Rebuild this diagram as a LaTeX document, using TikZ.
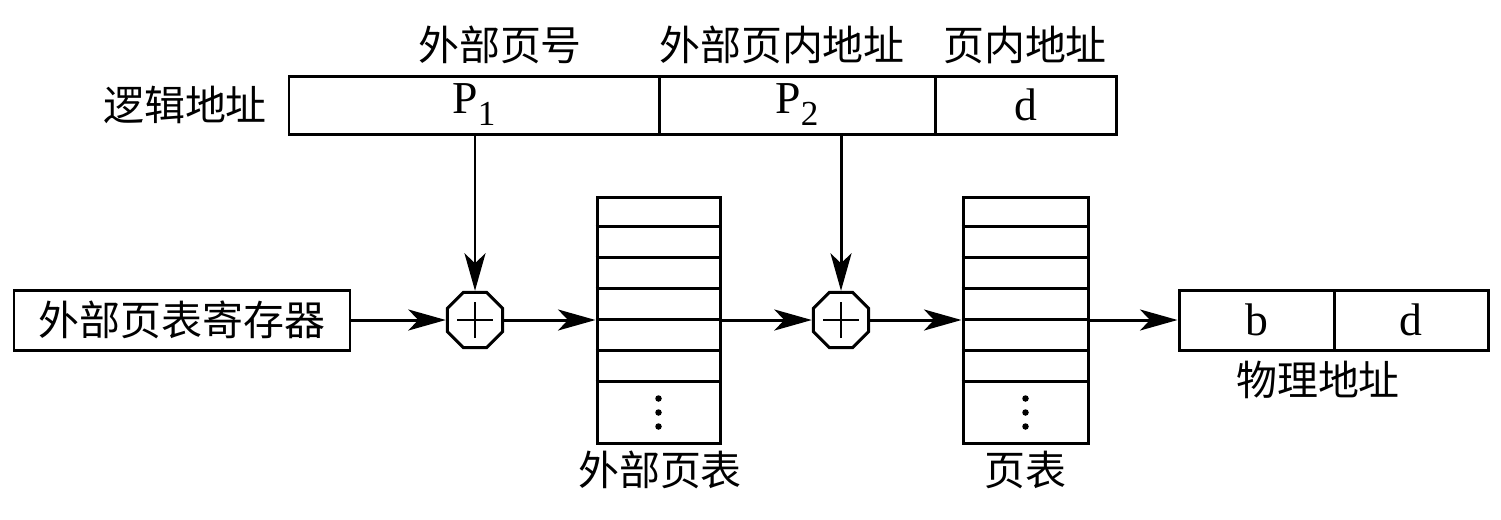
\documentclass[tikz,border=0pt]{standalone}
\usepackage{fontspec}
\setmainfont{Liberation Serif}
\newfontfamily\cjk{Noto Sans CJK SC}
\usetikzlibrary{arrows.meta,shapes.geometric}
\newcommand\bigfont{\fontsize{23.3}{28}\selectfont}
\newcommand\latfont{\fontsize{26}{30}\selectfont}
\newcommand\subone[1]{{\fontsize{20}{22}\selectfont\raisebox{-0.34em}{#1}}}

\tikzset{
  field/.style={draw, line width=1.7pt, minimum height=1.16cm, inner sep=0pt, font=\latfont},
  cjklabel/.style={font=\cjk\bigfont, inner sep=0pt},
  adder/.style={draw, line width=1.7pt, fill=white, regular polygon, regular polygon sides=8,
    minimum size=1.2cm, inner sep=0pt,
    path picture={\draw[line width=0.8pt]
      ([xshift=-0.36cm]path picture bounding box.center) -- ([xshift=0.36cm]path picture bounding box.center)
      ([yshift=-0.36cm]path picture bounding box.center) -- ([yshift=0.36cm]path picture bounding box.center);}},
  pagetab/.style={draw, line width=1.7pt, minimum height=4.92cm, inner sep=0pt},
  arr/.style={line width=1.7pt, -{Stealth[length=7.5mm, width=4.2mm, inset=2mm]}}
}

\begin{document}
\begin{tikzpicture}

\useasboundingbox (0,0) rectangle (30.02,-10.38);

\node[cjklabel] (logaddr) at (3.7,-2.1) {逻辑地址};
\node[field, minimum width=7.4cm] (p1) at (9.48,-2.1) {P\subone{1}};
\node[field, minimum width=5.52cm] (p2) at (15.94,-2.1) {P\subone{2}};
\node[field, minimum width=3.62cm] (off) at (20.51,-2.1) {d};

\node[cjklabel] (p1lab) at (10.0,-0.9) {外部页号};
\node[cjklabel] (p2lab) at (15.64,-0.9) {外部页内地址};
\node[cjklabel] (offlab) at (20.5,-0.9) {页内地址};

\node[field, minimum width=6.72cm, minimum height=1.2cm, font=\cjk\bigfont] (reg) at (3.64,-6.4) {外部页表寄存器};

\node[adder] (add1) at (9.5,-6.4) {};
\node[adder] (add2) at (16.82,-6.4) {};

\node[pagetab, minimum width=2.46cm] (otab) at (13.17,-6.4) {};
\node[pagetab, minimum width=2.5cm] (ptab) at (20.51,-6.4) {};
\foreach \t in {otab,ptab} {
  \foreach \i in {1,...,6}
    \draw[line width=1.7pt] ([yshift=-\i*0.62cm]\t.north west) -- ([yshift=-\i*0.62cm]\t.north east);
  \foreach \d in {0.36,0.64,0.92}
    \fill ([yshift=\d cm]\t.south) circle (0.065cm);
}

\node[cjklabel] (otablab) at (13.2,-9.4) {外部页表};
\node[cjklabel] (ptablab) at (20.5,-9.4) {页表};

\node[field, minimum width=3.1cm, minimum height=1.2cm] (blk) at (25.13,-6.4) {b};
\node[field, minimum width=3.08cm, minimum height=1.2cm] (disp) at (28.22,-6.4) {d};
\node[cjklabel] (physlab) at (26.36,-7.6) {物理地址};

\draw[arr] (p1.south -| add1) -- (add1);
\draw[arr] (p2.south -| add2) -- (add2);
\draw[arr] (reg) -- (add1);
\draw[arr] (add1) -- (otab.west);
\draw[arr] (otab.east) -- (add2);
\draw[arr] (add2) -- (ptab.west);
\draw[arr] (ptab.east) -- (blk);

\end{tikzpicture}
\end{document}
